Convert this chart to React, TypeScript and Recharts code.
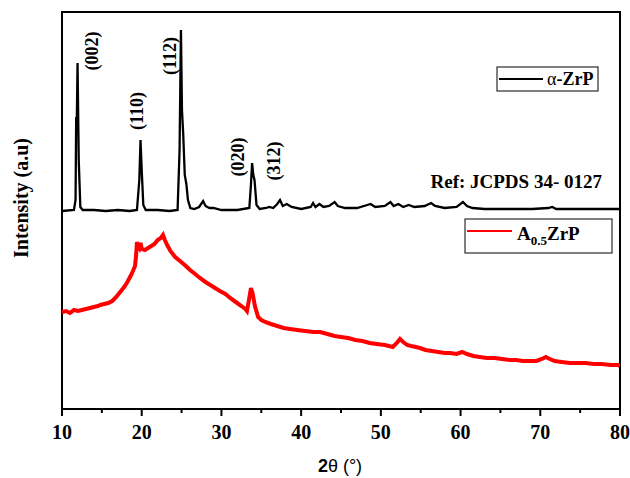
import React from 'react';
import { LineChart, Line, XAxis, YAxis, ReferenceArea } from 'recharts';

// 2θ (deg) / intensity (a.u.)
const zrpAngles = [
  10, 11.5, 11.7, 11.78, 11.85, 11.95, 12.1, 12.3, 12.6, 14, 15.5, 17, 18.5, 19.4, 19.7, 19.85, 20.0, 20.2, 20.5,
  22, 23.5, 24.5, 24.75, 24.92, 25.05, 25.2, 25.4, 25.6, 25.8, 26.1, 26.6, 27.2, 27.7, 28.0, 28.5, 29, 30, 31, 32,
  33.5, 33.7, 33.85, 34.0, 34.15, 34.4, 34.8, 35.6, 36.0, 36.5, 37.0, 37.35, 37.7, 38.2, 38.8, 40, 41.2, 41.5, 41.8,
  42.3, 42.8, 43.5, 44.2, 44.6, 45.5, 47, 48.3, 48.7, 49.3, 50.5, 51.2, 51.6, 52.2, 52.8, 53.5, 54.2, 55.5, 56.3,
  56.8, 58, 59.5, 60.3, 60.8, 61.5, 63, 65, 67, 69, 71, 71.5, 72, 75, 78, 80,
];
const zrpIntensity = [
  198, 199, 209, 292, 284, 346, 249, 202, 199, 199, 198, 199, 198, 199, 229, 269, 239, 204, 199,
  199, 198, 199, 259, 379, 299, 276, 234, 225, 209, 201, 200, 202, 208, 203, 201, 201, 199, 199, 199,
  201, 224, 246, 234, 229, 204, 200, 201, 202, 201, 205, 209, 203, 205, 202, 200, 202, 206, 202,
  205, 202, 203, 207, 203, 201, 201, 204, 205, 202, 203, 207, 203, 205, 202, 204, 202, 203, 206,
  203, 201, 202, 207, 203, 201, 200, 200, 200, 200, 201, 202, 200, 200, 200, 200,
];

const azrpAngles = [
  10, 10.5, 11, 11.5, 12, 12.5, 13, 13.5, 14, 14.5, 14.8, 15.3, 15.8, 16.3, 16.8, 17.3, 17.8, 18.2, 18.6, 18.9,
  19.16, 19.3, 19.4, 19.55, 19.7, 19.85, 20.0, 20.4, 20.8, 21.2, 21.6, 22.0, 22.4, 22.67, 22.9, 23.2, 23.6, 24.2,
  24.8, 25.4, 26.06, 26.7, 27.3, 28.0, 28.6, 29.2, 29.8, 30.5, 31.1, 31.8, 32.5, 33.0, 33.2, 33.45, 33.7, 33.9,
  34.2, 34.6, 35.0, 35.5, 36.2, 37.0, 37.8, 38.6, 39.5, 40.5, 41.5, 42.4, 43.3, 44.2, 45.0, 45.9, 46.8, 47.7,
  48.6, 49.5, 50.5, 51.5, 52.0, 52.4, 52.8, 53.3, 53.8, 54.4, 54.9, 55.6, 56.4, 57.2, 58.0, 58.7, 59.5, 60.2,
  60.8, 61.6, 62.4, 63.3, 64.3, 65.2, 66.2, 67.0, 67.8, 68.7, 69.5, 70.2, 70.7, 71.2, 71.8, 72.7, 73.7, 74.7,
  75.7, 76.7, 77.7, 78.8, 79.8, 80,
];
const azrpIntensity = [
  97, 98, 96, 99, 98, 99, 100, 101, 102, 103, 104, 105, 106, 108, 112, 117, 122, 127, 133, 138,
  143, 154, 167, 163, 161, 166, 160, 159, 161, 163, 165, 169, 171, 174, 169, 164, 158, 152,
  148, 144, 139, 135, 131, 127, 124, 121, 118, 115, 111, 107, 103, 100, 98, 109, 121, 116,
  103, 92, 89, 87, 85, 83, 81, 80, 79, 78, 77, 77, 75, 73, 72, 71, 69, 68,
  66, 65, 64, 62, 66, 70, 67, 64, 63, 62, 61, 59, 58, 57, 56, 56, 55, 57,
  55, 53, 52, 51, 51, 50, 49, 49, 48, 48, 48, 50, 52, 50, 48, 47, 46, 46,
  46, 45, 45, 44, 44, 43,
];

const xTicks = [10, 15, 20, 25, 30, 35, 40, 45, 50, 55, 60, 65, 70, 75, 80];

const peakLabels = [
  { text: '(002)', x: 92, y: 51 },
  { text: '(110)', x: 137, y: 111 },
  { text: '(112)', x: 170, y: 56 },
  { text: '(020)', x: 238, y: 157 },
  { text: '(312)', x: 274, y: 161 },
];

const zrpData = zrpAngles.map((a, i) => ({ angle: a, value: zrpIntensity[i] }));
const azrpData = azrpAngles.map((a, i) => ({ angle: a, value: azrpIntensity[i] }));

const serif = '"Liberation Serif", "Times New Roman", serif';
const sans = '"Liberation Sans", Arial, sans-serif';

const AngleTick = (props: any) => {
  const { x, y, payload } = props;
  const major = payload.value % 10 === 0;
  return (
    <g>
      <line x1={x} x2={x} y1={y} y2={y + (major ? 7 : 4)} stroke="#000" strokeWidth={2} />
      {major && (
        <text x={x} y={y + 30} textAnchor="middle" fontFamily={serif} fontWeight="bold" fontSize={20} fill="#000">
          {payload.value}
        </text>
      )}
    </g>
  );
};

export default function App() {
  return (
    <div style={{ position: 'absolute', left: 0, top: 0, width: 630, height: 478, background: '#fff' }}>
      <LineChart width={630} height={478} margin={{ top: 12, right: 10, bottom: 0, left: 62 }}>
        <XAxis
          type="number"
          dataKey="angle"
          domain={[10, 80]}
          ticks={xTicks}
          interval={0}
          height={69}
          tickSize={0}
          tickMargin={0}
          tickLine={false}
          axisLine={{ stroke: '#000', strokeWidth: 2 }}
          tick={<AngleTick />}
          allowDataOverflow
        />
        <YAxis hide type="number" domain={[0, 397]} allowDataOverflow />
        <ReferenceArea x1={10} x2={80} y1={0} y2={397} fill="none" fillOpacity={0} stroke="#000" strokeWidth={2} />
        <Line data={zrpData} dataKey="value" type="linear" stroke="#000" strokeWidth={2.3} dot={false} isAnimationActive={false} />
        <Line data={azrpData} dataKey="value" type="linear" stroke="#ff0000" strokeWidth={4} dot={false} isAnimationActive={false} />
      </LineChart>
      <svg width={630} height={478} style={{ position: 'absolute', left: 0, top: 0, pointerEvents: 'none' }}>
        {peakLabels.map((p) => (
          <text
            key={p.text}
            x={p.x}
            y={p.y}
            transform={`rotate(-90 ${p.x} ${p.y})`}
            textAnchor="middle"
            dominantBaseline="central"
            fontFamily={serif}
            fontWeight="bold"
            fontSize={18}
            fill="#000"
          >
            {p.text}
          </text>
        ))}
        <text x={602} y={188} textAnchor="end" fontFamily={serif} fontWeight="bold" fontSize={19} fill="#000">
          Ref: JCPDS 34- 0127
        </text>
        <rect x={497} y={67} width={101} height={24} fill="#fff" stroke="#000" strokeWidth={1} />
        <line x1={499} x2={543} y1={79} y2={79} stroke="#000" strokeWidth={2} />
        <text x={547} y={85} fontFamily={serif} fontSize={18} fill="#000">
          α<tspan fontWeight="bold">-ZrP</tspan>
        </text>
        <rect x={465} y={219} width={147} height={34} fill="#fff" stroke="#000" strokeWidth={1} />
        <line x1={467} x2={512} y1={231} y2={231} stroke="#ff0000" strokeWidth={2} />
        <text x={517} y={240} fontFamily={serif} fontWeight="bold" fontSize={19} fill="#000">
          A<tspan fontSize={13} dy={5}>0.5</tspan>
          <tspan dy={-5}>ZrP</tspan>
        </text>
        <text
          x={21}
          y={198}
          transform="rotate(-90 21 198)"
          textAnchor="middle"
          dominantBaseline="central"
          fontFamily={serif}
          fontWeight="bold"
          fontSize={20}
          fill="#000"
        >
          Intensity (a.u)
        </text>
        <text x={340} y={472} textAnchor="middle" fontFamily={sans} fontSize={18} fill="#000">
          <tspan fontWeight="bold">2</tspan>θ (°)
        </text>
      </svg>
    </div>
  );
}
